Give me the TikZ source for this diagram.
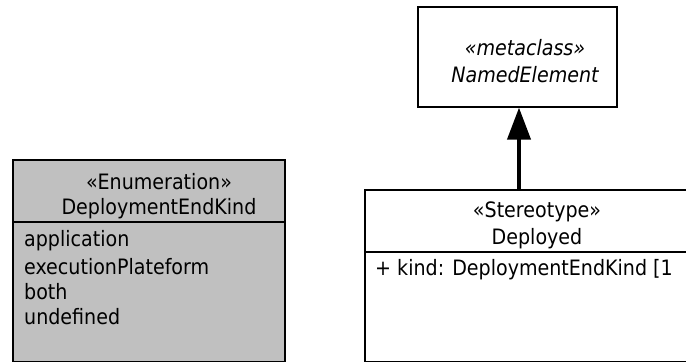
\documentclass[tikz,border=0pt]{standalone}
\usepackage{fontspec}
\setmainfont{DejaVu Sans Condensed}
\usetikzlibrary{arrows.meta}
\begin{document}
\begin{tikzpicture}[x=1pt,y=-1pt,
  box/.style={draw=black,line width=1.2pt},
  txt/.style={inner sep=0pt,font=\fontsize{21.2}{25}\selectfont},
  lft/.style={txt,anchor=west}]
\useasboundingbox (0,0) rectangle (686,362);
\clip (0,0) rectangle (686,362);
% Enumeration box
\filldraw[box,fill={rgb,255:red,192;green,192;blue,192}] (13,160) rectangle (285,361.5);
\draw[box] (13,222) -- (285,222);
\node[txt] (enum1) at (159,182) {«Enumeration»};
\node[txt] (enum2) at (159,209) {DeploymentEndKind};
\node[lft] (l1) at (24,241) {application};
\node[lft] (l2) at (24,267) {executionPlateform};
\node[lft] (l3) at (24,292) {both};
\node[lft] (l4) at (24,317) {undefined};
% metaclass box
\node[box,minimum width=199pt,minimum height=100pt,inner sep=0pt] (meta) at (517.5,57) {};
\node[txt,font=\fontsize{21.2}{25}\itshape] (m1) at (525,48) {«metaclass»};
\node[txt,font=\fontsize{21.2}{25}\itshape] (m2) at (525,75) {NamedElement};
% Stereotype box
\draw[box,fill=white] (365,190) rectangle (720,361.5);
\coordinate (stTop) at (519,190);
\draw[box] (365,252) -- (720,252);
\node[txt] (s1) at (537,212) {«Stereotype»};
\node[txt] (s2) at (537,239) {Deployed};
\node[lft] (a1) at (375,270) {+ kind: DeploymentEndKind [1};
% generalization arrow
\draw[line width=4pt,-{Triangle[length=32pt,width=23pt]}] (stTop) -- (meta.south -| stTop);
\end{tikzpicture}
\end{document}
